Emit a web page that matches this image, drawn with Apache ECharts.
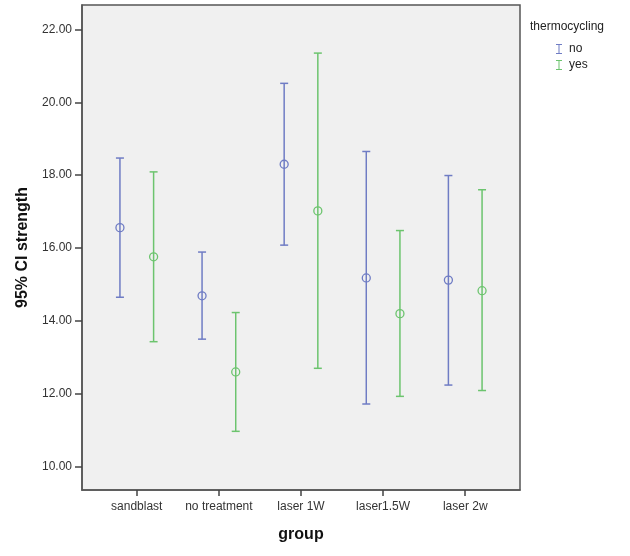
<!DOCTYPE html>
<html>
<head>
<meta charset="utf-8">
<script src="https://cdn.jsdelivr.net/npm/echarts@6/dist/echarts.min.js"></script>
<style>html,body{margin:0;padding:0;background:#fff;}#c{width:630px;height:556px;}</style>
</head>
<body>
<div id="c"></div>
<script>
var categories = ['sandblast', 'no treatment', 'laser 1W', 'laser1.5W', 'laser 2w'];
var yTicks = [10, 12, 14, 16, 18, 20, 22];
var noMean  = [16.56, 14.69, 18.30, 15.18, 15.12];
var noLow   = [14.65, 13.50, 16.08, 11.72, 12.24];
var noHigh  = [18.47, 15.89, 20.52, 18.65, 17.99];
var yesMean = [15.76, 12.60, 17.02, 14.20, 14.83];
var yesLow  = [13.43, 10.97, 12.70, 11.93, 12.09];
var yesHigh = [18.09, 14.23, 21.35, 16.48, 17.60];

var FONT = '"Liberation Sans", Arial, sans-serif';
var BLUE = '#6f7cc4';
var GREEN = '#6cc46e';

function buildData(means, lows, highs) {
  return categories.map(function (c, i) { return [i + 1, lows[i], highs[i], means[i]]; });
}

function makeSeries(name, color, offset, means, lows, highs) {
  return {
    type: 'custom',
    name: name,
    itemStyle: { color: color },
    data: buildData(means, lows, highs),
    encode: { x: 0, y: [1, 2, 3] },
    renderItem: function (params, api) {
      var x = api.value(0) + offset;
      var lo = api.coord([x, api.value(1)]);
      var hi = api.coord([x, api.value(2)]);
      var mid = api.coord([x, api.value(3)]);
      var cap = 4;
      var st = { stroke: color, lineWidth: 1.5, fill: null };
      return {
        type: 'group',
        children: [
          { type: 'line', shape: { x1: lo[0], y1: lo[1], x2: hi[0], y2: hi[1] }, style: st },
          { type: 'line', shape: { x1: hi[0] - cap, y1: hi[1], x2: hi[0] + cap, y2: hi[1] }, style: st },
          { type: 'line', shape: { x1: lo[0] - cap, y1: lo[1], x2: lo[0] + cap, y2: lo[1] }, style: st },
          { type: 'circle', shape: { cx: mid[0], cy: mid[1], r: 4 }, style: { stroke: color, lineWidth: 1.3, fill: 'rgba(0,0,0,0)' } }
        ]
      };
    }
  };
}

var chart = echarts.init(document.getElementById('c'), null, { renderer: 'canvas' });
chart.setOption({
  animation: false,
  backgroundColor: '#fff',
  textStyle: { fontFamily: FONT },
  title: {
    text: 'thermocycling', left: 525, top: 16,
    textStyle: { fontFamily: FONT, fontSize: 12, fontWeight: 'normal', color: '#222' }
  },
  legend: {
    orient: 'vertical', left: 556, top: 43, itemGap: 4, padding: 0,
    itemWidth: 6, itemHeight: 11,
    icon: 'path://M0,0H6V1H3.5V9H6V10H0V9H2.5V1H0Z',
    textStyle: { fontFamily: FONT, fontSize: 12, color: '#222', padding: [0, 0, 0, 2] },
    data: ['no', 'yes']
  },
  grid: {
    left: 82, right: 110, top: 5, bottom: 66,
    show: true, backgroundColor: '#f0f0f0', borderColor: '#555', borderWidth: 1.5
  },
  xAxis: {
    type: 'value', min: 0.333, max: 5.667,
    name: 'group', nameLocation: 'middle', nameGap: 37,
    nameTextStyle: { fontFamily: FONT, fontSize: 16, fontWeight: 'bold', color: '#111' },
    splitLine: { show: false },
    axisLine: { show: true, lineStyle: { color: '#555', width: 1.5 } },
    axisTick: { show: true, customValues: [1, 2, 3, 4, 5], length: 6, lineStyle: { color: '#444', width: 1.5 } },
    axisLabel: {
      customValues: [1, 2, 3, 4, 5], margin: 11,
      fontFamily: FONT, fontSize: 12, color: '#333',
      formatter: function (v) { return categories[Math.round(v) - 1] || ''; }
    }
  },
  yAxis: {
    type: 'value', min: 9.36, max: 22.67,
    name: '95% CI strength', nameLocation: 'middle', nameGap: 47,
    nameTextStyle: { fontFamily: FONT, fontSize: 16, fontWeight: 'bold', color: '#111' },
    splitLine: { show: false },
    axisLine: { show: true, lineStyle: { color: '#555', width: 1.5 } },
    axisTick: { show: true, customValues: yTicks, length: 7, lineStyle: { color: '#444', width: 1.5 } },
    axisLabel: {
      customValues: yTicks, margin: 10,
      fontFamily: FONT, fontSize: 12, color: '#333',
      formatter: function (v) { return v.toFixed(2); }
    }
  },
  series: [
    makeSeries('no', BLUE, -0.205, noMean, noLow, noHigh),
    makeSeries('yes', GREEN, 0.205, yesMean, yesLow, yesHigh)
  ]
});
</script>
</body>
</html>
